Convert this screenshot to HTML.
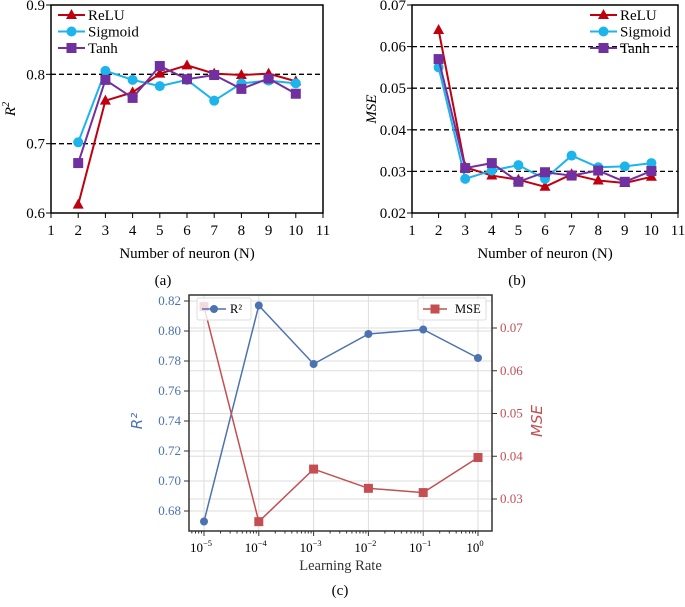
<!DOCTYPE html>
<html><head><meta charset="utf-8"><style>
body{margin:0;background:#fff;width:685px;height:602px;overflow:hidden}
</style></head><body>
<svg id="s" width="685" height="602" xmlns="http://www.w3.org/2000/svg" font-family="'Liberation Serif', 'Times New Roman', serif"></svg>
<script>
// ---- data (a) ----
const neurons=[2,3,4,5,6,7,8,9,10];
const r2Relu=[0.612,0.762,0.774,0.801,0.813,0.801,0.799,0.801,0.790];
const r2Sigmoid=[0.702,0.805,0.792,0.783,0.792,0.762,0.787,0.791,0.787];
const r2Tanh=[0.672,0.792,0.766,0.812,0.793,0.799,0.779,0.794,0.772];
const aYTicks=[0.6,0.7,0.8,0.9];
const abXTicks=[1,2,3,4,5,6,7,8,9,10,11];
// ---- data (b) ----
const mseRelu=[0.064,0.031,0.029,0.028,0.0263,0.0293,0.0278,0.0272,0.0287];
const mseSigmoid=[0.055,0.0282,0.0302,0.0315,0.0282,0.0338,0.031,0.0312,0.032];
const mseTanh=[0.057,0.0308,0.032,0.0275,0.0298,0.029,0.0302,0.0275,0.0301];
const bYTicks=[0.02,0.03,0.04,0.05,0.06,0.07];
// ---- data (c) ----
const lrExp=[-5,-4,-3,-2,-1,0];
const lrR2=[0.673,0.817,0.778,0.798,0.801,0.782];
const lrMse=[0.075,0.0247,0.037,0.0325,0.0315,0.0397];
const cR2Ticks=[0.68,0.70,0.72,0.74,0.76,0.78,0.80,0.82];
const cMseTicks=[0.03,0.04,0.05,0.06,0.07];

const S=document.getElementById('s');
const SERIF="font-family:'Liberation Serif',serif";
function el(t,a,p){const e=document.createElementNS('http://www.w3.org/2000/svg',t);for(const k in a)e.setAttribute(k,a[k]);(p||S).appendChild(e);return e;}
function tx(x,y,s,a,p){const e=el('text',Object.assign({x:x,y:y,style:SERIF},a),p);e.textContent=s;return e;}
function lin(d0,d1,r0,r1){return v=>r0+(v-d0)/(d1-d0)*(r1-r0);}
function marker(g,type,x,y,c,sz){
  if(type==='tri')el('polygon',{points:`${x},${y-6} ${x-5.5},${y+4} ${x+5.5},${y+4}`,fill:c},g);
  else if(type==='circ')el('circle',{cx:x,cy:y,r:sz||5,fill:c},g);
  else el('rect',{x:x-(sz||5),y:y-(sz||5),width:2*(sz||5),height:2*(sz||5),fill:c},g);
}
function series(xs,ys,X,Y,c,type,name,sz,w){
  const g=el('g',{});
  
  
  el('polyline',{points:xs.map((v,i)=>X(v)+','+Y(ys[i])).join(' '),fill:'none',stroke:c,'stroke-width':w||2},g);
  xs.forEach((v,i)=>marker(g,type,X(v),Y(ys[i]),c,sz));
}
const RED='#c0000f',CYAN='#1cb4ea',PURP='#7030a0';

function panelAB(L,R,T,B,ymin,ymax,yTicks,dash,fmt,sets,ylab,legX,legY,name,cap,capX){
  const g=el('g',{});
  
  
  const X=lin(1,11,L,R),Y=lin(ymin,ymax,B,T);
  dash.forEach(v=>el('line',{x1:L,x2:R,y1:Y(v),y2:Y(v),stroke:'#000','stroke-dasharray':'5,3','stroke-width':1.3},g));
  el('rect',{x:L,y:T,width:R-L,height:B-T,fill:'none',stroke:'#000','stroke-width':1.5},g);
  yTicks.forEach(v=>{el('line',{x1:L-5,x2:L,y1:Y(v),y2:Y(v),stroke:'#000'},g);tx(L-6,Y(v)+5,fmt(v),{'font-size':15,'text-anchor':'end'},g);});
  abXTicks.forEach(v=>{el('line',{x1:X(v),x2:X(v),y1:B,y2:B+5,stroke:'#000'},g);tx(X(v),B+22,String(v),{'font-size':15,'text-anchor':'middle'},g);});
  const xt=tx((L+R)/2,B+45,'Number of neuron (N)',{'font-size':15,'text-anchor':'middle'},g);
  
  const yt=tx(0,0,ylab.t,{'font-size':15,'font-style':'italic','text-anchor':'middle',transform:`translate(${L-36},${(T+B)/2}) rotate(-90)`},g);
  
  if(ylab.sup){const ts=el('tspan',{'font-size':10,dy:-6},yt);ts.textContent=ylab.sup;}
  sets.forEach(s=>series(neurons,s.v,X,Y,s.c,s.m,s.n));
  sets.forEach((s,i)=>{const lg=el('g',{});
    
    
    const y=legY+i*16.5;
    el('line',{x1:legX,x2:legX+27,y1:y,y2:y,stroke:s.c,'stroke-width':2},lg);
    marker(lg,s.m,legX+13.5,y,s.c);
    tx(legX+30,y+5,s.l,{'font-size':15},lg);});
  const c=tx(capX,B+72,cap,{'font-size':15,'text-anchor':'middle'});
  
  
}
panelAB(51,323,5,213,0.6,0.9,aYTicks,[0.7,0.8],v=>v.toFixed(1),
 [{v:r2Relu,c:RED,m:'tri',n:'relu-r2-line',l:'ReLU'},{v:r2Sigmoid,c:CYAN,m:'circ',n:'sigmoid-r2-line',l:'Sigmoid'},{v:r2Tanh,c:PURP,m:'sq',n:'tanh-r2-line',l:'Tanh'}],
 {t:'R',sup:'2'},58,15,'chart-a-r2','(a)',163);
panelAB(412,678,5,213,0.02,0.07,bYTicks,[0.03,0.04,0.05,0.06],v=>v.toFixed(2),
 [{v:mseRelu,c:RED,m:'tri',n:'relu-mse-line',l:'ReLU'},{v:mseSigmoid,c:CYAN,m:'circ',n:'sigmoid-mse-line',l:'Sigmoid'},{v:mseTanh,c:PURP,m:'sq',n:'tanh-mse-line',l:'Tanh'}],
 {t:'MSE'},590,15,'chart-b-mse','(b)',517);

// ---- panel c ----
(function(){
  const L=189,R=492,T=295,B=531,BL='#4c72b0',RD='#c44e52';
  const g=el('g',{});
  
  
  const X=lin(-5,0,204,478),Y=lin(0.68,0.82,511,301),Y2=lin(0.03,0.07,499,328);
  cR2Ticks.forEach(v=>el('line',{x1:L,x2:R,y1:Y(v),y2:Y(v),stroke:'#ddd'},g));
  cMseTicks.forEach(v=>el('line',{x1:L,x2:R,y1:Y2(v),y2:Y2(v),stroke:'#ddd'},g));
  lrExp.forEach(v=>el('line',{x1:X(v),x2:X(v),y1:T,y2:B,stroke:'#ddd'},g));
  el('rect',{x:L,y:T,width:R-L,height:B-T,fill:'none',stroke:'#333','stroke-width':1.5},g);
  cR2Ticks.forEach(v=>{el('line',{x1:L-5,x2:L,y1:Y(v),y2:Y(v),stroke:'#333'},g);tx(L-8,Y(v)+4,v.toFixed(2),{'font-size':13,'text-anchor':'end',fill:BL},g);});
  cMseTicks.forEach(v=>{el('line',{x1:R,x2:R+5,y1:Y2(v),y2:Y2(v),stroke:'#333'},g);tx(R+8,Y2(v)+4,v.toFixed(2),{'font-size':13,fill:RD},g);});
  for(let d=-6;d<=0;d++){for(let m=2;m<10;m++){const x=X(d+Math.log10(m));if(x>L&&x<R)el('line',{x1:x,x2:x,y1:B,y2:B+2.5,stroke:'#333'},g);}}
  lrExp.forEach(v=>{el('line',{x1:X(v),x2:X(v),y1:B,y2:B+5,stroke:'#333'},g);
    const t=tx(X(v)-3,B+21,'10',{'font-size':13,'text-anchor':'middle'},g);const s=el('tspan',{'font-size':8.5,dy:-6},t);s.textContent=v===0?'0':'\u2212'+(-v);});
  const xt=tx((L+R)/2,B+39,'Learning Rate',{'font-size':14.5,'text-anchor':'middle',fill:'#333'},g);
  
  const y1=tx(0,0,'R²',{'font-size':15,'font-style':'italic',style:"font-family:'DejaVu Sans',sans-serif",fill:BL,'text-anchor':'middle',transform:`translate(${L-47},${(T+B)/2+8}) rotate(-90)`},g);
  
  const y2=tx(0,0,'MSE',{'font-size':15,'font-style':'italic',style:"font-family:'DejaVu Sans',sans-serif",fill:RD,'text-anchor':'middle',transform:`translate(${R+50},${(T+B)/2+8}) rotate(-90)`},g);
  
  series(lrExp,lrR2,X,Y,BL,'circ','r2-line',4,1.5);
  series(lrExp,lrMse,X,Y2,RD,'sq','mse-line',4.5,1.5);
  const l1=el('g',{});
  el('rect',{x:197,y:298,width:54,height:22,fill:'#fff','fill-opacity':0.8,stroke:'#ddd',rx:2},l1);
  el('line',{x1:202,x2:226,y1:309,y2:309,stroke:BL,'stroke-width':1.5},l1);marker(l1,'circ',214,309,BL,4);
  tx(230,313,'R²',{'font-size':12.5},l1);
  const l2=el('g',{});
  el('rect',{x:418,y:298,width:68,height:22,fill:'#fff','fill-opacity':0.8,stroke:'#ddd',rx:2},l2);
  el('line',{x1:423,x2:447,y1:309,y2:309,stroke:RD,'stroke-width':1.5},l2);marker(l2,'sq',435,309,RD,4.5);
  tx(455,313,'MSE',{'font-size':12.5},l2);
  const c=tx(340,595,'(c)',{'font-size':15,'text-anchor':'middle'});
  
  
})();
</script>
</body></html>
